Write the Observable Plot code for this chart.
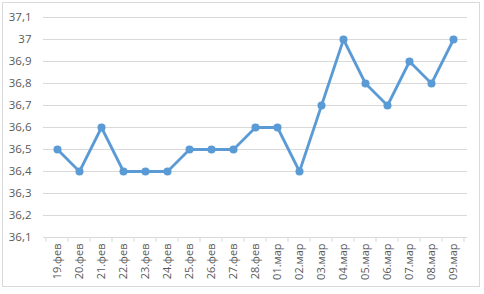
<!DOCTYPE html>
<html><head><meta charset="utf-8">
<script src="https://cdn.jsdelivr.net/npm/d3@7"></script>
<script src="https://cdn.jsdelivr.net/npm/@observablehq/plot@0.6"></script>
<style>
html,body{margin:0;padding:0;background:#fff;}
#chart{position:relative;width:484px;height:294px;}
#frame{position:absolute;left:2px;top:2px;width:478px;height:285px;border:1px solid #d9d9d9;box-sizing:border-box;pointer-events:none;}
</style></head>
<body><div id="chart"><div id="frame"></div></div>
<script>
const dates = ["19.фев","20.фев","21.фев","22.фев","23.фев","24.фев","25.фев","26.фев","27.фев","28.фев","01.мар","02.мар","03.мар","04.мар","05.мар","06.мар","07.мар","08.мар","09.мар"];
const temps = [36.5,36.4,36.6,36.4,36.4,36.4,36.5,36.5,36.5,36.6,36.6,36.4,36.7,37.0,36.8,36.7,36.9,36.8,37.0];
const yTicks = [36.1,36.2,36.3,36.4,36.5,36.6,36.7,36.8,36.9,37.0,37.1];

const data = dates.map((d,i)=>({date:d, t:temps[i]}));
const fmt = v => String(+v.toFixed(1)).replace(".", ",");

const plot = Plot.plot({
  width: 484, height: 294,
  marginLeft: 43, marginRight: 17, marginTop: 17, marginBottom: 57,
  style: {fontFamily: "'Open Sans', sans-serif", fontSize: "11px", color: "#595959", background: "transparent"},
  x: {type: "band", domain: dates, padding: 0, label: null},
  y: {domain: [36.1, 37.1], label: null},
  marks: [
    Plot.gridY(yTicks.slice(1), {stroke: "#d9d9d9", strokeOpacity: 1, strokeWidth: 1}),
    Plot.axisY({ticks: yTicks, tickFormat: fmt, tickSize: 0, tickPadding: 12, fill: "#595959", fontSize: 11.5}),
    Plot.ruleY([36.1], {stroke: "#d9d9d9", strokeWidth: 1}),
    Plot.axisX({tickSize: 0, tickRotate: -90, tickPadding: 6, fill: "#595959", fontSize: 11}),
    Plot.line(data, {x: "date", y: "t", stroke: "#5b9bd5", strokeWidth: 2.8, curve: "linear"}),
    Plot.dot(data, {x: "date", y: "t", r: 3.3, fill: "#5b9bd5", stroke: "#5b9bd5"})
  ]
});
document.getElementById("chart").appendChild(plot);
plot.style.position = "absolute"; plot.style.left = "0"; plot.style.top = "0";

// band-boundary tick marks below the axis, placed with the x scale
const xs = plot.scale("x"), ys = plot.scale("y");
const svg = d3.select(plot);
const y0 = ys.apply(36.1);
const bounds = dates.map(d => xs.apply(d)).concat([xs.apply(dates[dates.length-1]) + xs.bandwidth]);
svg.append("g").selectAll("line").data(bounds).join("line")
  .attr("x1", d => d).attr("x2", d => d).attr("y1", y0).attr("y2", y0 + 5)
  .attr("stroke", "#d9d9d9");
</script></body></html>
